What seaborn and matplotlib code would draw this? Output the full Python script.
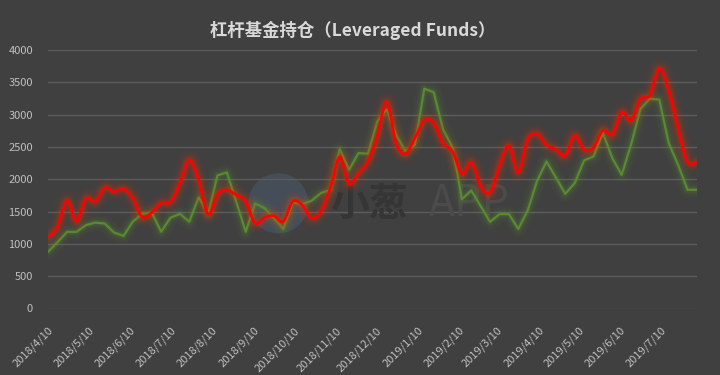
import numpy as np
import pandas as pd
import matplotlib
matplotlib.use("Agg")
import matplotlib.pyplot as plt
import matplotlib.dates as mdates
from matplotlib.path import Path
from matplotlib.patches import PathPatch, Ellipse
import seaborn as sns

# 周度数据（2018/4/10 起，每周二）
red_vals = [1103, 1268, 1670, 1350, 1700, 1655, 1865, 1810, 1848, 1708,
            1415, 1485, 1630, 1646, 1940, 2300, 1990, 1455, 1760, 1835,
            1755, 1660, 1320, 1408, 1434, 1345, 1655, 1604, 1403, 1500,
            1863, 2343, 1930, 2095, 2276, 2663, 3195, 2560, 2395, 2638,
            2911, 2870, 2560, 2430, 2085, 2260, 1900, 1790, 2210, 2519,
            2105, 2612, 2700, 2534, 2457, 2364, 2674, 2457, 2490, 2756,
            2690, 3035, 2911, 3243, 3300, 3715, 3380, 2790, 2276, 2260]
green_vals = [880, 1030, 1186, 1186, 1290, 1330, 1315, 1175, 1124, 1346,
              1465, 1485, 1188, 1405, 1465, 1343, 1720, 1465, 2060, 2105,
              1650, 1186, 1625, 1553, 1398, 1232, 1640, 1615, 1666, 1786,
              1837, 2467, 2147, 2405, 2395, 2895, 3077, 2690, 2430, 2534,
              3402, 3345, 2767, 2498, 1693, 1826, 1585, 1341, 1460, 1460,
              1232, 1516, 1976, 2275, 2027, 1775, 1940, 2291, 2353, 2716,
              2328, 2069, 2540, 3090, 3247, 3232, 2560, 2224, 1837, 1837]
dates = pd.date_range("2018-04-10", "2019-08-06", freq="7D")
y_ticks = [0, 500, 1000, 1500, 2000, 2500, 3000, 3500, 4000]
title = "杠杆基金持仓（Leveraged Funds）"

df = pd.DataFrame({"date": dates, "red": red_vals, "green": green_vals})

bg = "#404040"
sns.set_style("dark", rc={"axes.facecolor": bg, "figure.facecolor": bg})
plt.rcParams["font.family"] = ["Noto Sans CJK SC", "DejaVu Sans"]

fig = plt.figure(figsize=(7.2, 3.75), dpi=100)
ax = fig.add_axes([48.3 / 720, 1 - 308.5 / 375, 648.6 / 720, 258.5 / 375])


# Excel 风格的平滑曲线（贝塞尔）
def smooth_path(xs, ys):
    pts = np.column_stack([xs, ys])
    n = len(pts)
    verts = [pts[0]]
    codes = [Path.MOVETO]
    for i in range(n - 1):
        p0 = pts[i - 1] if i > 0 else pts[i]
        p1 = pts[i]
        p2 = pts[i + 1]
        p3 = pts[i + 2] if i + 2 < n else pts[i + 1]
        verts += [p1 + (p2 - p0) / 6, p2 - (p3 - p1) / 6, p2]
        codes += [Path.CURVE4] * 3
    return Path(verts, codes)


# 水印
ax.add_patch(Ellipse((0.3546, 0.407), 0.0925, 0.232, transform=ax.transAxes,
                     color="#4a5a6c", alpha=0.55, zorder=0.5, lw=0))
ax.text(0.4948, 0.404, "小葱", transform=ax.transAxes, ha="center", va="center",
        fontsize=28, fontweight="bold", color="#353535", zorder=0.6)
ax.text(0.6486, 0.404, "APP", transform=ax.transAxes, ha="center", va="center",
        fontsize=31, color="#4b4b4b", zorder=0.6)

# 绿色折线 + 光晕
for lw, a in [(12, 0.035), (9, 0.05), (6, 0.07), (4, 0.1)]:
    sns.lineplot(data=df, x="date", y="green", ax=ax, color="#62a030",
                 lw=lw, alpha=a, zorder=2, solid_joinstyle="round",
                 solid_capstyle="round")
sns.lineplot(data=df, x="date", y="green", ax=ax, color="#5a8a30", lw=1.6,
             zorder=3)

# 红色平滑线 + 光晕
path = smooth_path(mdates.date2num(df["date"]), df["red"].values)
for lw, a in [(14, 0.04), (10, 0.06), (7, 0.09), (4.5, 0.14)]:
    ax.add_patch(PathPatch(path, fill=False, edgecolor="#ff3000", lw=lw,
                           alpha=a, zorder=4, joinstyle="round", capstyle="round"))
ax.add_patch(PathPatch(path, fill=False, edgecolor="#ff0000", lw=1.9, zorder=5))

ax.set_xlim(dates[0], dates[-1])
ax.set_ylim(0, 4000)
ax.set_yticks(y_ticks)
ax.yaxis.grid(True, color="#5c5c5c", lw=1)
ax.xaxis.grid(False)
for s in ax.spines.values():
    s.set_visible(False)

ax.xaxis.set_major_locator(mdates.MonthLocator(bymonthday=10))
ax.xaxis.set_major_formatter(
    plt.FuncFormatter(lambda v, p: "{0.year}/{0.month}/{0.day}".format(mdates.num2date(v))))
ax.tick_params(axis="x", length=0, pad=12, labelsize=8, labelcolor="#bfbfbf")
ax.tick_params(axis="y", length=0, pad=11, labelsize=8, labelcolor="#bfbfbf")
for lab in ax.get_xticklabels():
    lab.set_rotation(45)
    lab.set_ha("right")
    lab.set_rotation_mode("anchor")
ax.set_xlabel("")
ax.set_ylabel("")

fig.text(353 / 720, 1 - 30 / 375, title, ha="center", va="center",
         fontsize=12.5, fontweight="bold", color="#d9d9d9")

fig.savefig("out.png", dpi=100, facecolor=bg)
